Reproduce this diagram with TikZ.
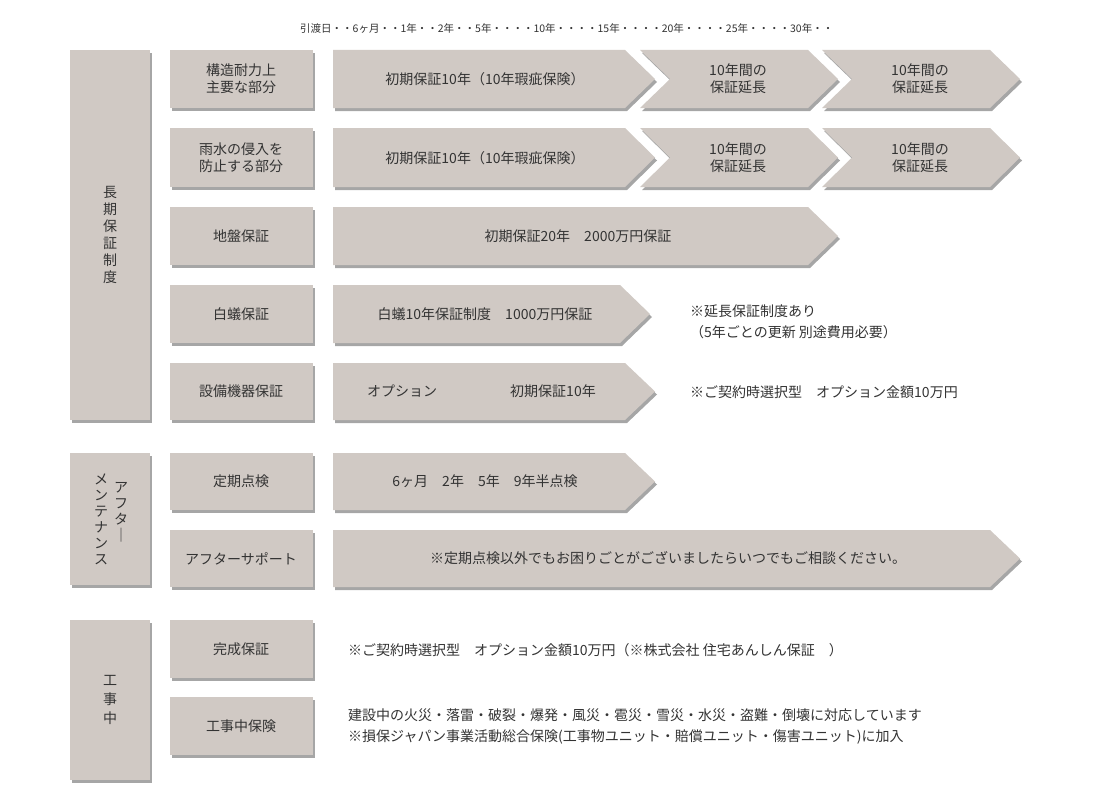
\documentclass[tikz,border=0pt]{standalone}
\usepackage{fontspec}
\setmainfont{Noto Sans CJK JP}
\usetikzlibrary{shadows}
\definecolor{bx}{HTML}{D0C9C4}
\definecolor{tx}{HTML}{333333}
\begin{document}
\begin{tikzpicture}[x=1pt,y=-1pt,
  sh/.style={fill=bx,drop shadow={shadow xshift=2pt,shadow yshift=-3pt,fill=black,opacity=0.35}},
  lbl/.style={text=tx,font=\fontsize{14}{17}\selectfont,align=center,inner sep=0pt},
  note/.style={text=tx,font=\fontsize{14}{21}\selectfont,align=left,anchor=west,inner sep=0pt}]
\useasboundingbox[fill=white] (0,0) rectangle (1110,800);
\node[text=tx,font=\fontsize{10.5}{12}\selectfont,anchor=west,inner sep=0pt] (hdr) at (300,28) {引渡日・・6ヶ月・・1年・・2年・・5年・・・・10年・・・・15年・・・・20年・・・・25年・・・・30年・・};
% left column
\newcommand\mygrp[2]{\path[sh] (70,#1) rectangle (150,#2);}
\mygrp{50}{420}\mygrp{453}{585}\mygrp{620}{780}
\node[lbl,font=\fontsize{14}{17}\selectfont] (g1) at (110,235) {長\\期\\保\\証\\制\\度};
\node[lbl,font=\fontsize{14}{16}\selectfont] (g2a) at (121,512) {ア\\フ\\タ\\｜};
\node[lbl,font=\fontsize{14}{16}\selectfont] (g2b) at (101,519) {メ\\ン\\テ\\ナ\\ン\\ス};
\node[lbl,font=\fontsize{14}{19}\selectfont] (g3) at (110,700) {工\\事\\中};
% second column
\foreach \a/\b/\t/\n in {50/108/構造耐力上\\主要な部分/r1,128/187/雨水の侵入を\\防止する部分/r2,207/265/地盤保証/r3,285/343/白蟻保証/r4,363/420/設備機器保証/r5,453/510/定期点検/r6,530/587/アフターサポート/r7,620/678/完成保証/r8,697/755/工事中保険/r9}{
  \path[sh] (170,\a) rectangle (313,\b);
  \node[lbl] (\n) at (241,{(\a+\b)/2}) {\t};
}
\newcommand\farrow[3]{\path[sh] (333,#1) -- (#3-30,#1) -- (#3,{(#1+#2)/2}) -- (#3-30,#2) -- (333,#2) -- cycle;}
\newcommand\chev[4]{\path[sh] (#3,#1) -- (#4-30,#1) -- (#4,{(#1+#2)/2}) -- (#4-30,#2) -- (#3,#2) -- (#3+30,{(#1+#2)/2}) -- cycle;}
\farrow{50}{108}{655}\chev{50}{108}{640}{838}\chev{50}{108}{822}{1020}
\farrow{128}{187}{655}\chev{128}{187}{640}{838}\chev{128}{187}{822}{1020}
\farrow{207}{265}{838}
\farrow{285}{343}{650}
\farrow{363}{420}{655}
\farrow{453}{510}{655}
\farrow{530}{587}{1020}
\node[lbl] (a1) at (485,79) {初期保証10年（10年瑕疵保険）};
\node[lbl] (a2) at (738,79) {10年間の\\保証延長};
\node[lbl] (a3) at (920,79) {10年間の\\保証延長};
\node[lbl] (b1) at (485,158) {初期保証10年（10年瑕疵保険）};
\node[lbl] (b2) at (738,158) {10年間の\\保証延長};
\node[lbl] (b3) at (920,158) {10年間の\\保証延長};
\node[lbl] (c1) at (578,236) {初期保証20年　2000万円保証};
\node[lbl] (d1) at (485,314) {白蟻10年保証制度　1000万円保証};
\node[lbl] (e1) at (402,391) {オプション};
\node[lbl] (e2) at (553,391) {初期保証10年};
\node[lbl] (f1) at (485,481) {6ヶ月　2年　5年　9年半点検};
\node[lbl] (g7) at (668,558) {※定期点検以外でもお困りごとがございましたらいつでもご相談ください。};
\node[note] (n1) at (690,322) {※延長保証制度あり\\（5年ごとの更新 別途費用必要）};
\node[note] (n2) at (690,392) {※ご契約時選択型　オプション金額10万円};
\node[note] (n3) at (348,650) {※ご契約時選択型　オプション金額10万円（※株式会社 住宅あんしん保証　）};
\node[note] (n4) at (348,726) {建設中の火災・落雷・破裂・爆発・風災・雹災・雪災・水災・盗難・倒壊に対応しています\\※損保ジャパン事業活動総合保険(工事物ユニット・賠償ユニット・傷害ユニット)に加入};
\end{tikzpicture}
\end{document}
